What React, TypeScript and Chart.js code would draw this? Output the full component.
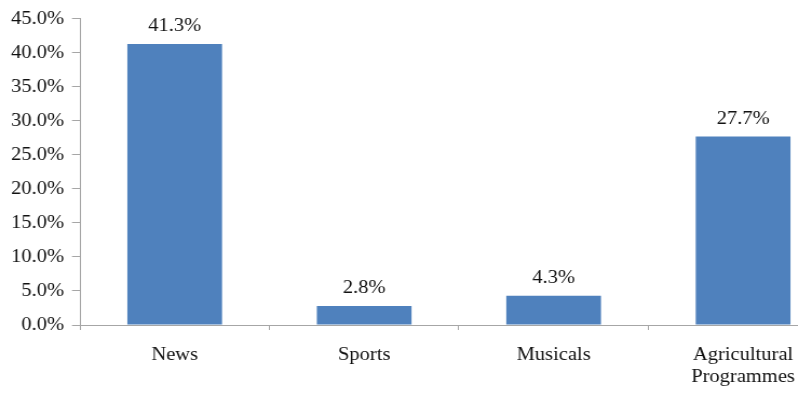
import { useEffect, useRef } from 'react';
import { Chart, registerables } from 'chart.js';

Chart.register(...registerables);

const categories: (string | string[])[] = ['News', 'Sports', 'Musicals', ['Agricultural', 'Programmes']];
const values: number[] = [41.3, 2.8, 4.3, 27.7];
const yMin = 0;
const yMax = 45;
const yStep = 5;

// The reference is slightly stretched horizontally; render narrower and scale via CSS.
const STRETCH = 1.08;
const INTERNAL_W = 790;
const H = 393;
const FONT = "'Liberation Serif'";
const FONT_SIZE = 19;

const valueLabels = {
  id: 'valueLabels',
  afterDatasetsDraw(chart: any) {
    const ctx = chart.ctx;
    const meta = chart.getDatasetMeta(0);
    ctx.save();
    ctx.font = `${FONT_SIZE}px ${FONT}`;
    ctx.fillStyle = '#111';
    ctx.textAlign = 'center';
    ctx.textBaseline = 'middle';
    meta.data.forEach((bar: any, i: number) => {
      ctx.fillText(values[i].toFixed(1) + '%', bar.x, bar.y - 18);
    });
    ctx.restore();
  },
};

export default function App() {
  const ref = useRef<HTMLCanvasElement>(null);
  useEffect(() => {
    let chart: Chart | null = null;
    let cancelled = false;
    const build = () => {
      if (cancelled || !ref.current) return;
      chart = new Chart(ref.current, {
        type: 'bar',
        data: {
          labels: categories as any,
          datasets: [
            {
              data: values,
              backgroundColor: '#4F81BD',
              borderWidth: 0,
              categoryPercentage: 1,
              barPercentage: 0.5,
            },
          ],
        },
        options: {
          responsive: false,
          animation: false,
          devicePixelRatio: 1,
          layout: { padding: { top: 17, right: INTERNAL_W - 838 / STRETCH, bottom: 0, left: 0 } },
          plugins: { legend: { display: false }, tooltip: { enabled: false } },
          scales: {
            x: {
              afterFit(scale: any) {
                scale.height = 68;
              },
              border: { display: true, color: '#A6A6A6', width: 1 },
              grid: { display: true, drawOnChartArea: false, drawTicks: true, tickLength: 5, color: '#A6A6A6', offset: true },
              ticks: {
                color: '#111',
                font: { family: FONT, size: FONT_SIZE, lineHeight: 22 / FONT_SIZE },
                padding: 14,
                maxRotation: 0,
                autoSkip: false,
              },
            },
            y: {
              min: yMin,
              max: yMax,
              afterFit(scale: any) {
                scale.width = 80 / STRETCH;
              },
              border: { display: true, color: '#A6A6A6', width: 1 },
              grid: { display: true, drawOnChartArea: false, drawTicks: true, tickLength: 7.4, color: '#A6A6A6' },
              ticks: {
                stepSize: yStep,
                color: '#111',
                font: { family: FONT, size: FONT_SIZE },
                padding: 7.4,
                callback: (v: any) => Number(v).toFixed(1) + '%',
              },
            },
          },
        },
        plugins: [valueLabels],
      });
    };
    const fonts: any = (document as any).fonts;
    if (fonts && fonts.load) {
      fonts.load(`${FONT_SIZE}px ${FONT}`).then(build, build);
    } else {
      build();
    }
    return () => {
      cancelled = true;
      if (chart) chart.destroy();
    };
  }, []);

  return (
    <div style={{ position: 'fixed', left: 0, top: 0, width: 798, height: H, overflow: 'hidden', background: '#fff' }}>
      <canvas
        ref={ref}
        width={INTERNAL_W}
        height={H}
        style={{ width: `${INTERNAL_W * STRETCH}px`, height: `${H}px`, display: 'block' }}
      />
    </div>
  );
}
